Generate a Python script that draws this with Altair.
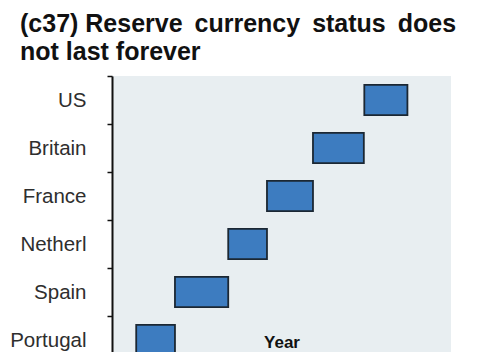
import altair as alt
import pandas as pd

countries = ["US", "Britain", "France", "Netherl", "Spain", "Portugal"]
start_years = [1921, 1815, 1720, 1640, 1530, 1450]
end_years = [2010, 1920, 1815, 1720, 1640, 1530]

df = pd.DataFrame({"country": countries, "start": start_years, "end": end_years})

title_lines = ["(c37) Reserve\u2009 currency\u2009 status\u2009 does", "not last forever"]

bars = alt.Chart(df).mark_bar(
    height={"band": 0.63},
    fill="#3d7cc0",
    stroke="#1b2733",
    strokeWidth=1.8,
).encode(
    x=alt.X(
        "start:Q",
        scale=alt.Scale(domain=[1400, 2100], nice=False, zero=False),
        axis=alt.Axis(
            title="Year", labels=False, ticks=False, domain=False, grid=False,
            titleY=-18, titleBaseline="top", titleFontSize=17, titleFontWeight="bold",
            titleFont="Liberation Sans", titleColor="#111",
        ),
    ),
    x2="end:Q",
    y=alt.Y(
        "country:N",
        sort=countries,
        scale=alt.Scale(paddingInner=0, paddingOuter=0, range=[0, 288]),
        axis=alt.Axis(
            title=None, tickBand="extent", tickSize=5, tickWidth=1.5, tickColor="#111",
            domainColor="#111", domainWidth=2, labelFont="Liberation Sans",
            labelFontSize=20.5, labelColor="#2e2e2e", labelPadding=21, grid=False,
        ),
    ),
).properties(
    width=339,
    height=276,
    autosize=alt.AutoSizeParams(type="none"),
    padding={"left": 104, "top": 68, "right": 26, "bottom": 0},
    title=alt.TitleParams(
        text=title_lines, anchor="start", frame="group", fontSize=25,
        font="Liberation Sans", fontWeight="bold", color="#111", lineHeight=28,
        dx=-92, dy=3,
    ),
).configure_view(stroke=None, fill="#e8eef1")

chart = bars
chart.save("out.html", embed_options={"renderer": "svg", "actions": False})
